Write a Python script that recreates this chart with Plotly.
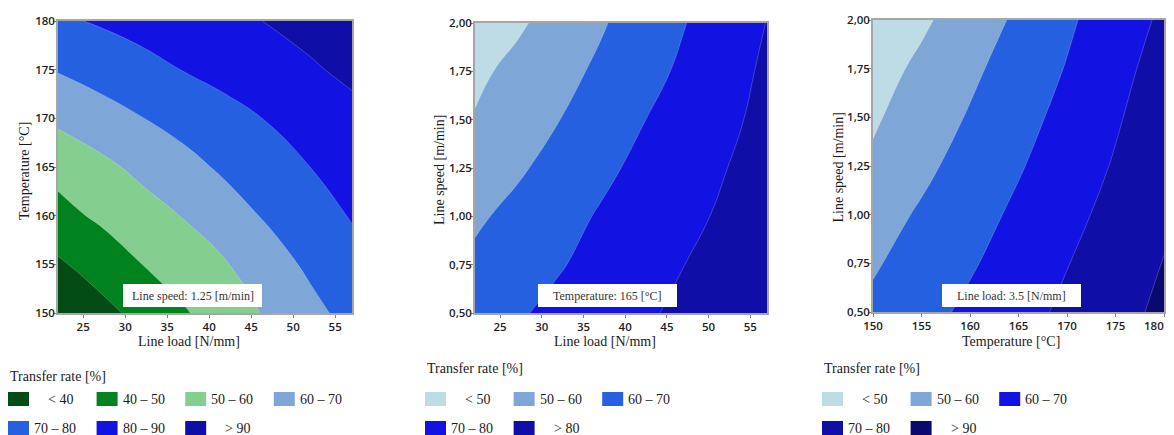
import plotly.graph_objects as go

OFF = 8  # the page body adds an 8 px margin; positions below are window pixels
W, H = 1174 - 2 * OFF, 435

# ---------------- data ----------------
# Panel 1: Line load [N/mm] vs Temperature [°C], line speed 1.25 m/min
load_p1 = [22, 27, 32, 37, 42, 47, 52, 57]
temp_p1 = [150, 155, 160, 165, 170, 175, 180]
rate_p1 = [
    [30.6, 36.8, 43.0, 49.1, 55.2, 61.2, 67.2, 73.3],
    [38.6, 44.3, 50.0, 54.8, 59.5, 65.6, 71.8, 77.0],
    [47.1, 51.5, 56.0, 60.5, 65.9, 71.2, 76.1, 80.6],
    [52.9, 57.6, 62.4, 67.1, 71.7, 75.8, 80.0, 84.2],
    [62.0, 65.9, 69.8, 73.4, 76.9, 80.5, 84.1, 87.6],
    [70.6, 73.9, 77.1, 80.3, 83.2, 86.1, 89.0, 91.8],
    [78.6, 80.9, 83.3, 85.6, 88.0, 90.3, 92.7, 95.0],
]
levels_p1 = [40, 90, 10]
colors_p1 = ["#034c16", "#00821f", "#84cf90", "#7ea7d8", "#2560e0", "#1212e2", "#0f0fa8"]
legend_p1 = ["< 40", "40 – 50", "50 – 60", "60 – 70", "70 – 80", "80 – 90", "> 90"]
legend_colors_p1 = colors_p1

# Panel 2: Line load [N/mm] vs Line speed [m/min], temperature 165 °C
load_p2 = [22, 27, 32, 37, 42, 47, 52, 57]
speed_p2 = [0.5, 0.75, 1.0, 1.25, 1.5, 1.75, 2.0]
rate_p2 = [
    [65.8, 69.0, 72.2, 75.4, 78.6, 81.8, 85.0, 88.2],
    [61.9, 65.6, 69.3, 72.8, 76.3, 79.9, 83.4, 86.9],
    [58.5, 62.6, 66.8, 70.8, 74.3, 77.8, 81.3, 84.8],
    [53.9, 58.6, 63.3, 67.9, 72.1, 76.0, 79.8, 83.6],
    [50.6, 55.2, 59.8, 64.7, 69.6, 73.9, 78.1, 82.4],
    [48.0, 52.5, 57.0, 61.6, 66.6, 71.6, 76.5, 81.5],
    [43.3, 48.5, 53.8, 59.0, 64.3, 69.6, 74.9, 80.2],
]
levels_p2 = [50, 80, 10]
colors_p2 = ["#bedce6", "#7ea7d8", "#2560e0", "#1212e2", "#0f0fa8"]
legend_p2 = ["< 50", "50 – 60", "60 – 70", "70 – 80", "> 80"]
legend_colors_p2 = colors_p2

# Panel 3: Temperature [°C] vs Line speed [m/min], line load 3.5 N/mm
temp_p3 = [150, 155, 160, 165, 170, 175, 180]
speed_p3 = [0.5, 0.75, 1.0, 1.25, 1.5, 1.75, 2.0]
rate_p3 = [
    [62.0, 66.9, 71.9, 76.8, 81.8, 86.9, 92.0],
    [59.0, 64.0, 69.0, 74.3, 79.7, 85.0, 90.3],
    [55.9, 61.2, 66.4, 71.8, 77.3, 82.9, 88.5],
    [51.5, 57.8, 63.7, 69.2, 75.0, 80.8, 86.6],
    [48.8, 54.8, 60.8, 66.7, 72.8, 79.0, 85.3],
    [46.0, 52.0, 58.1, 64.3, 70.5, 77.1, 83.7],
    [41.8, 48.4, 55.0, 61.6, 68.5, 75.1, 81.6],
]
levels_p3 = [50, 90, 10]
colors_p3 = ["#bedce6", "#7ea7d8", "#2560e0", "#1212e2", "#0f0fa8", "#0a0a6e"]
legend_p3 = ["< 50", "50 – 60", "60 – 70", "70 – 80", "> 90"]
legend_colors_p3 = ["#bedce6", "#7ea7d8", "#1212e2", "#0f0fa8", "#0a0a6e"]

speed_ticks = [0.5, 0.75, 1.0, 1.25, 1.5, 1.75, 2.0]
speed_ticktext = ["0,50", "0,75", "1,00", "1,25", "1,50", "1,75", "2,00"]
temp_ticks_p3 = [150, 155, 160, 165, 170, 175, 180]
temp_ticktext_p3 = ["150", "155", "160", "165", "170", "175", ""]  # last one drawn separately at the edge
last_temp_label = "180"

# ---------------- helpers ----------------
def px_x(x):
    return (x - OFF) / W

def px_y(y):
    return 1 - (y - OFF) / H

def band_scale(colors):
    n = len(colors)
    cs = []
    for i, c in enumerate(colors):
        cs.append([i / n, c])
        cs.append([(i + 1) / n, c])
    return cs

SERIF = "Liberation Serif, Times New Roman, serif"
SANS = "Open Sans, Arial, sans-serif"
TICKFONT = dict(family=SANS, size=11.5, color="#1e1e1e", weight=600)

fig = go.Figure()

panels = [
    dict(x=load_p1, y=temp_p1, z=rate_p1, lv=levels_p1, col=colors_p1, xa="x", ya="y"),
    dict(x=load_p2, y=speed_p2, z=rate_p2, lv=levels_p2, col=colors_p2, xa="x2", ya="y2"),
    dict(x=temp_p3, y=speed_p3, z=rate_p3, lv=levels_p3, col=colors_p3, xa="x3", ya="y3"),
]
for p in panels:
    fig.add_trace(go.Contour(
        x=p["x"], y=p["y"], z=p["z"],
        xaxis=p["xa"], yaxis=p["ya"],
        contours=dict(start=p["lv"][0], end=p["lv"][1], size=p["lv"][2],
                      coloring="fill", showlines=True),
        colorscale=band_scale(p["col"]),
        line=dict(color="rgba(255,255,255,0.35)", width=0.6, smoothing=1.3),
        showscale=False, hoverinfo="skip",
    ))

# plot area boxes in window pixels: (left, right, top, bottom)
boxes = [(58, 352, 21, 313), (475, 767, 23, 313), (873, 1164, 20, 312)]

axis_common = dict(
    showgrid=False, zeroline=False, showline=True, mirror=True, automargin=False,
    linecolor="#a6a6a6", linewidth=1.5, ticks="outside", ticklen=3,
    tickcolor="#7f7f7f", ticklabeloverflow="allow", tickfont=TICKFONT,
)

layout_axes = {}
names = [("xaxis", "yaxis"), ("xaxis2", "yaxis2"), ("xaxis3", "yaxis3")]
ranges = [([22, 57], [150, 180]), ([22, 57], [0.5, 2.0]), ([150, 180], [0.5, 2.0])]
for i, ((xn, yn), (l, r, t, b), (xr, yr)) in enumerate(zip(names, boxes, ranges)):
    anchor_x = "y" if i == 0 else f"y{i+1}"
    anchor_y = "x" if i == 0 else f"x{i+1}"
    xa = dict(axis_common, domain=[px_x(l), px_x(r)], range=xr, anchor=anchor_x,
              tickmode="linear", dtick=5, tick0=0, ticklabelstandoff=-1)
    if i == 2:
        xa.update(tickmode="array", tickvals=temp_ticks_p3, ticktext=temp_ticktext_p3)
    ya = dict(axis_common, domain=[px_y(b), px_y(t)], range=yr, anchor=anchor_y,
              ticklabelstandoff=-4)
    if i == 0:
        ya.update(tickmode="linear", dtick=5, tick0=0)
    else:
        ya.update(tickmode="array", tickvals=speed_ticks, ticktext=speed_ticktext)
    layout_axes[xn] = xa
    layout_axes[yn] = ya

fig.update_layout(**layout_axes)

annotations = []
shapes = []

def text(x, y, s, size=14, xanchor="center", angle=0, color="#1a1a1a", font=None):
    annotations.append(dict(
        x=px_x(x), y=px_y(y), xref="paper", yref="paper", text=s, showarrow=False,
        xanchor=xanchor, yanchor="middle", textangle=angle,
        font=font or dict(family=SERIF, size=size, color=color)))

# last tick label of panel 3, kept inside the visible page
text(1166, 325, last_temp_label, xanchor="right", font=TICKFONT)

# axis titles
text(189, 341, "Line load [N/mm]")
text(605, 341, "Line load [N/mm]")
text(1011, 341, "Temperature [°C]")
text(24, 171, "Temperature [°C]", angle=-90)
text(439, 170, "Line speed [m/min]", angle=-90)
text(837.5, 168, "Line speed [m/min]", angle=-90)

# condition boxes inside plots
cond = [((123, 262, 284, 307), "Line speed: 1.25 [m/min]"),
        ((538, 677, 284, 307), "Temperature: 165 [°C]"),
        ((942, 1081, 284, 307), "Line load: 3.5 [N/mm]")]
for (l, r, t, b), s in cond:
    shapes.append(dict(type="rect", xref="paper", yref="paper",
                       x0=px_x(l), x1=px_x(r), y0=px_y(b), y1=px_y(t),
                       fillcolor="white", line=dict(width=0), layer="above"))
    text((l + r) / 2, (t + b) / 2, s, size=12, color="#333333")

# legends
legends = [
    (8, 376, 4, legend_p1, legend_colors_p1),
    (425, 368, 3, legend_p2, legend_colors_p2),
    (822, 368, 3, legend_p3, legend_colors_p3),
]
row_tops = [392, 421]
for x0, ty, per_row, labels, cols in legends:
    text(x0, ty, "Transfer rate [%]", xanchor="left")
    for k, (lab, c) in enumerate(zip(labels, cols)):
        row, colk = divmod(k, per_row)
        sx = x0 + colk * 88.6
        st = row_tops[row]
        shapes.append(dict(type="rect", xref="paper", yref="paper",
                           x0=px_x(sx), x1=px_x(sx + 21), y0=px_y(st + 14), y1=px_y(st),
                           fillcolor=c, line=dict(width=0)))
        off = 17 if lab[0] in "<>" else 3
        text(sx + 21 + off, st + 7, lab, xanchor="left")

fig.update_layout(
    width=W, height=H, margin=dict(l=0, r=0, t=0, b=0, pad=0),
    paper_bgcolor="white", plot_bgcolor="white",
    showlegend=False, annotations=annotations, shapes=shapes,
)

fig.write_html("out.html")
